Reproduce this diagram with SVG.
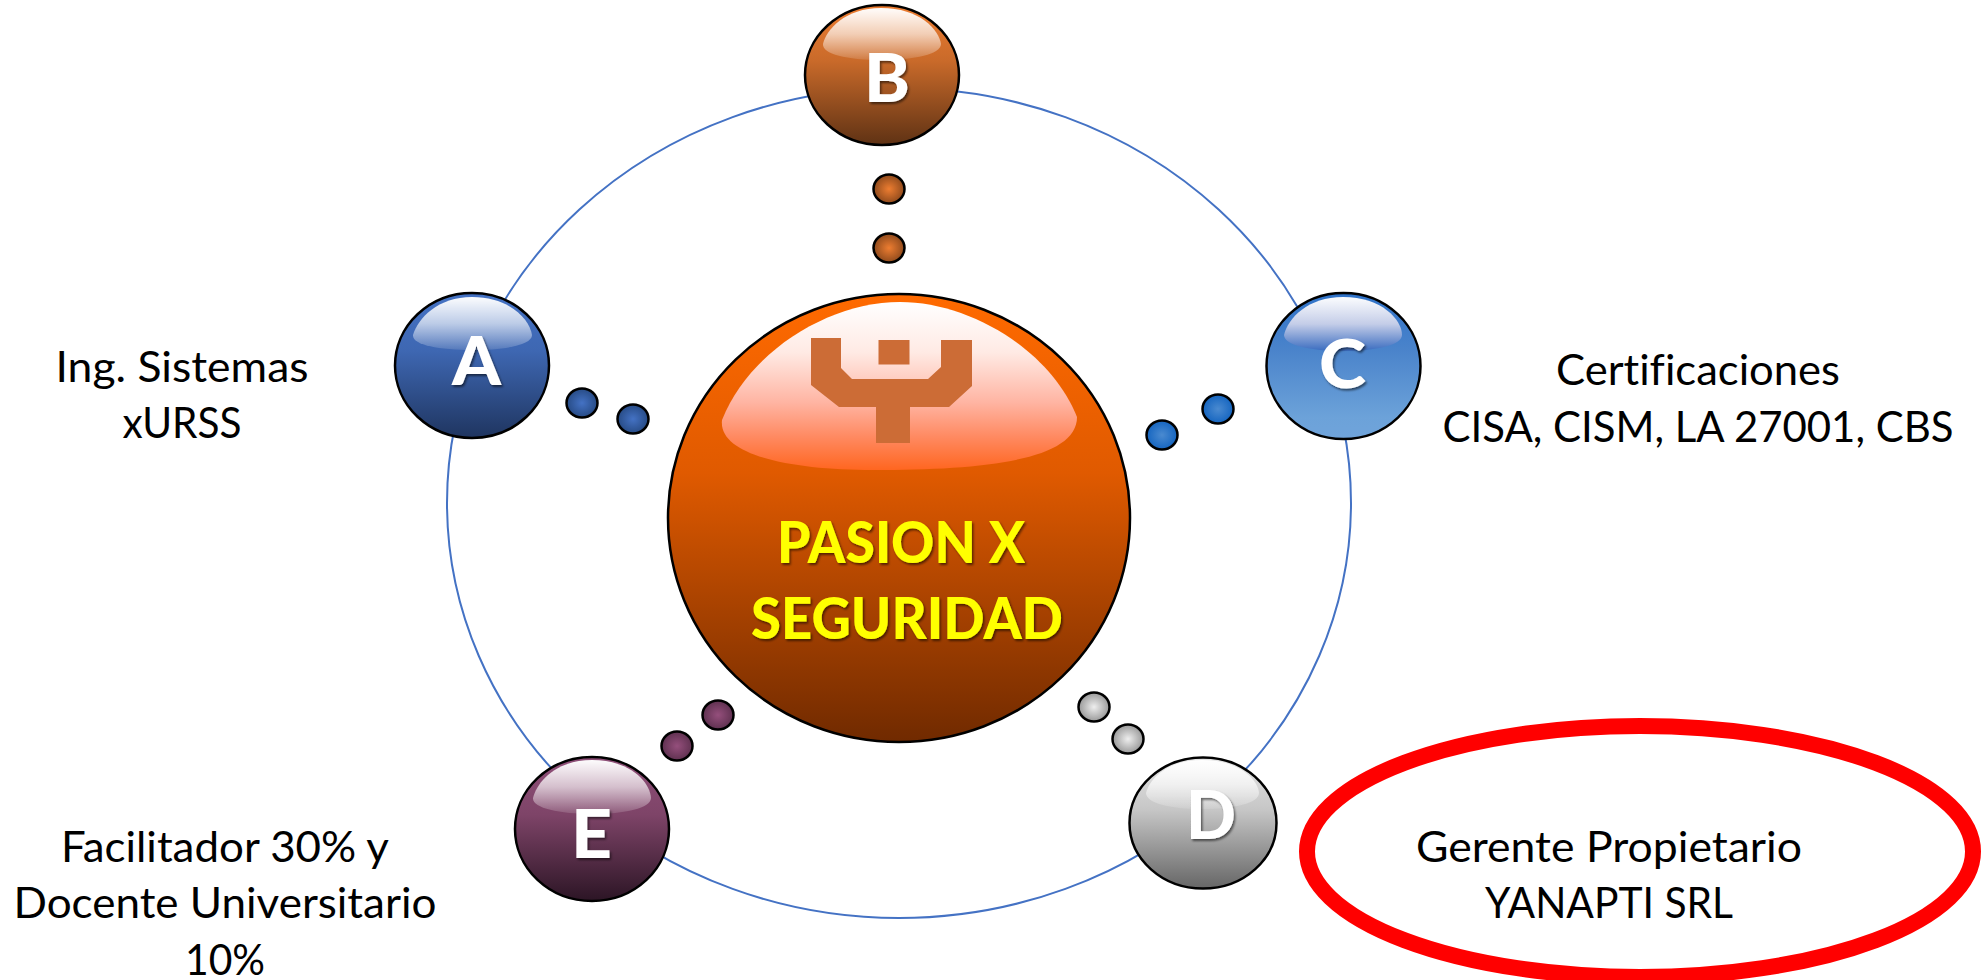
<svg xmlns="http://www.w3.org/2000/svg" width="1985" height="980" viewBox="0 0 1985 980">
<style>
.lbl{font-family:"Lato","Liberation Sans",sans-serif;font-size:42.5px;fill:#000;text-anchor:middle;font-variant-ligatures:none}
.let{font-family:"Lato","Liberation Sans",sans-serif;font-weight:900;font-size:66px;fill:#fff;text-anchor:middle;filter:url(#sh)}
.mid{font-family:"Lato","Liberation Sans",sans-serif;font-weight:900;font-size:58px;fill:#ff0;text-anchor:middle;filter:url(#sh)}
.o{stroke:#000;stroke-width:2.5}
.d{stroke:#000;stroke-width:2.5}
</style>
<defs>
<filter id="sh" x="-20%" y="-20%" width="140%" height="140%"><feDropShadow dx="1.5" dy="2" stdDeviation="1.2" flood-color="#000" flood-opacity=".55"/></filter>
<linearGradient id="hl" x1="0" y1="0" x2="0" y2="1"><stop offset="0" stop-color="#fff" stop-opacity=".98"/><stop offset=".5" stop-color="#fff" stop-opacity=".65"/><stop offset="1" stop-color="#fff" stop-opacity=".12"/></linearGradient>
<linearGradient id="hlO" x1="0" y1="0" x2="0" y2="1"><stop offset="0" stop-color="#fff"/><stop offset=".3" stop-color="#ffeae4"/><stop offset=".6" stop-color="#ffb4a2"/><stop offset=".8" stop-color="#ff8a62"/><stop offset="1" stop-color="#ff6620"/></linearGradient>
<linearGradient id="hlC" x1="0" y1="0" x2="0" y2="1"><stop offset="0" stop-color="#fff" stop-opacity=".98"/><stop offset=".5" stop-color="#c4cde8"/><stop offset="1" stop-color="#3a6cc0"/></linearGradient>
<linearGradient id="gO" x1="0" y1="0" x2="0" y2="1"><stop offset="0" stop-color="#ff6a00"/><stop offset=".4" stop-color="#e05a00"/><stop offset="1" stop-color="#702a00"/></linearGradient>
<linearGradient id="gA" x1="0" y1="0" x2="0" y2="1"><stop offset="0" stop-color="#4472c4"/><stop offset=".4" stop-color="#3e67b2"/><stop offset="1" stop-color="#1f3560"/></linearGradient>
<linearGradient id="gB" x1="0" y1="0" x2="0" y2="1"><stop offset="0" stop-color="#ed7d31"/><stop offset=".4" stop-color="#c96a2a"/><stop offset="1" stop-color="#5f3214"/></linearGradient>
<linearGradient id="gC" x1="0" y1="0" x2="0" y2="1"><stop offset="0" stop-color="#2f72c8"/><stop offset=".4" stop-color="#4b84cb"/><stop offset=".85" stop-color="#6ca2d9"/><stop offset="1" stop-color="#70a4db"/></linearGradient>
<linearGradient id="gD" x1="0" y1="0" x2="0" y2="1"><stop offset="0" stop-color="#e6e6e6"/><stop offset=".4" stop-color="#c6c6c6"/><stop offset="1" stop-color="#666"/></linearGradient>
<linearGradient id="gE" x1="0" y1="0" x2="0" y2="1"><stop offset="0" stop-color="#8f4f78"/><stop offset=".4" stop-color="#7e4468"/><stop offset="1" stop-color="#2c1525"/></linearGradient>
<radialGradient id="dA"><stop offset="0" stop-color="#4472c4"/><stop offset="1" stop-color="#274b85"/></radialGradient>
<radialGradient id="dB"><stop offset="0" stop-color="#ed7d31"/><stop offset="1" stop-color="#8f4a1c"/></radialGradient>
<radialGradient id="dC"><stop offset="0" stop-color="#4a8ad0"/><stop offset="1" stop-color="#1565c0"/></radialGradient>
<radialGradient id="dD"><stop offset="0" stop-color="#eee"/><stop offset="1" stop-color="#999"/></radialGradient>
<radialGradient id="dE"><stop offset="0" stop-color="#954f7c"/><stop offset="1" stop-color="#5f3150"/></radialGradient>
</defs>
<rect width="1985" height="980" fill="#fff"/>
<g id="connectors">
<ellipse cx="899" cy="503" rx="452" ry="415" fill="none" stroke="#4472c4" stroke-width="2"/>
<ellipse class="d" cx="582" cy="403" rx="15.500" ry="14.500" fill="url(#dA)"/>
<ellipse class="d" cx="633" cy="419" rx="15.500" ry="14.500" fill="url(#dA)"/>
<ellipse class="d" cx="889" cy="189" rx="15.500" ry="14.500" fill="url(#dB)"/>
<ellipse class="d" cx="889" cy="248" rx="15.500" ry="14.500" fill="url(#dB)"/>
<ellipse class="d" cx="1218" cy="409" rx="15.500" ry="14.500" fill="url(#dC)"/>
<ellipse class="d" cx="1162" cy="435" rx="15.500" ry="14.500" fill="url(#dC)"/>
<ellipse class="d" cx="1094" cy="707" rx="15.500" ry="14.500" fill="url(#dD)"/>
<ellipse class="d" cx="1128" cy="739" rx="15.500" ry="14.500" fill="url(#dD)"/>
<ellipse class="d" cx="677" cy="746" rx="15.500" ry="14.500" fill="url(#dE)"/>
<ellipse class="d" cx="718" cy="715" rx="15.500" ry="14.500" fill="url(#dE)"/>
</g>
<g id="center">
<ellipse class="o" cx="899" cy="518" rx="231" ry="224" fill="url(#gO)"/>
<path d="M900 302C830 302 750 350 722 420C718 455 790 470 873 470C985 470 1077 460 1077 417C1050 350 970 302 900 302Z" fill="url(#hlO)"/>
<path d="M811 338H841V368L852 379H928L941 367V340H972V386L949 407H910V443H876V407H839L811 385Z" fill="#cc6c36"/>
<rect x="878.500" y="340" width="31" height="24.500" fill="#cc6c36"/>
<text class="mid" x="901" y="563" textLength="248" lengthAdjust="spacingAndGlyphs">PASION X</text>
<text class="mid" x="907" y="639" textLength="312" lengthAdjust="spacingAndGlyphs">SEGURIDAD</text>
</g>
<g id="node-a">
<ellipse class="o" cx="472" cy="365.500" rx="77" ry="72.500" fill="url(#gA)"/>
<path d="M472 297C510 297 530 320 532 335C532 345 505 350 472 350C439 350 412 345 413 335C418 318 438 297 472 297Z" fill="url(#hl)"/>
<text class="let" x="476.500" y="385" textLength="49" lengthAdjust="spacingAndGlyphs">A</text>
</g>
<g id="node-b">
<ellipse class="o" cx="882" cy="75" rx="77" ry="70" fill="url(#gB)"/>
<path d="M881 8C920 8 939 30 941 44C941 54 915 60 881 60C847 60 822 54 823 44C826 30 845 8 881 8Z" fill="url(#hl)"/>
<text class="let" x="887" y="101.500" textLength="46" lengthAdjust="spacingAndGlyphs">B</text>
</g>
<g id="node-c">
<ellipse class="o" cx="1343.500" cy="366" rx="77" ry="73" fill="url(#gC)"/>
<path d="M1343 297C1382 297 1402 320 1402 335C1402 345 1376 351 1343 351C1310 351 1284 345 1284 335C1288 318 1308 297 1343 297Z" fill="url(#hlC)"/>
<text class="let" x="1342.500" y="388" textLength="47" lengthAdjust="spacingAndGlyphs">C</text>
</g>
<g id="node-d">
<ellipse class="o" cx="1203" cy="823" rx="73.500" ry="65.500" fill="url(#gD)"/>
<path d="M1202 760C1240 760 1258 780 1259 793C1259 803 1234 809 1202 809C1170 809 1146 803 1146 793C1150 778 1168 760 1202 760Z" fill="url(#hl)"/>
<text class="let" x="1211" y="839" textLength="50" lengthAdjust="spacingAndGlyphs">D</text>
</g>
<g id="node-e">
<ellipse class="o" cx="592" cy="829" rx="77" ry="72" fill="url(#gE)"/>
<path d="M592 760C630 760 650 782 651 798C651 808 625 814 592 814C559 814 532 808 533 798C537 782 556 760 592 760Z" fill="url(#hl)"/>
<text class="let" x="591.500" y="858" textLength="41" lengthAdjust="spacingAndGlyphs">E</text>
</g>
<g id="labels">
<text class="lbl" x="182" y="382" textLength="253" lengthAdjust="spacingAndGlyphs">Ing. Sistemas</text>
<text class="lbl" x="182" y="438" textLength="119" lengthAdjust="spacingAndGlyphs">xURSS</text>
<text class="lbl" x="1698" y="385" textLength="284" lengthAdjust="spacingAndGlyphs">Certificaciones</text>
<text class="lbl" x="1698" y="442" textLength="511" lengthAdjust="spacingAndGlyphs">CISA, CISM, LA 27001, CBS</text>
<text class="lbl" x="225" y="862" textLength="328" lengthAdjust="spacingAndGlyphs">Facilitador 30% y</text>
<text class="lbl" x="225" y="918" textLength="423" lengthAdjust="spacingAndGlyphs">Docente Universitario</text>
<text class="lbl" x="225" y="975" textLength="80" lengthAdjust="spacingAndGlyphs">10%</text>
<text class="lbl" x="1609" y="862" textLength="386" lengthAdjust="spacingAndGlyphs">Gerente Propietario</text>
<text class="lbl" x="1609" y="918" textLength="248" lengthAdjust="spacingAndGlyphs">YANAPTI SRL</text>
</g>
<g id="highlight">
<ellipse cx="1640" cy="851.500" rx="333" ry="125.500" fill="none" stroke="#f00" stroke-width="16"/>
</g>
</svg>
